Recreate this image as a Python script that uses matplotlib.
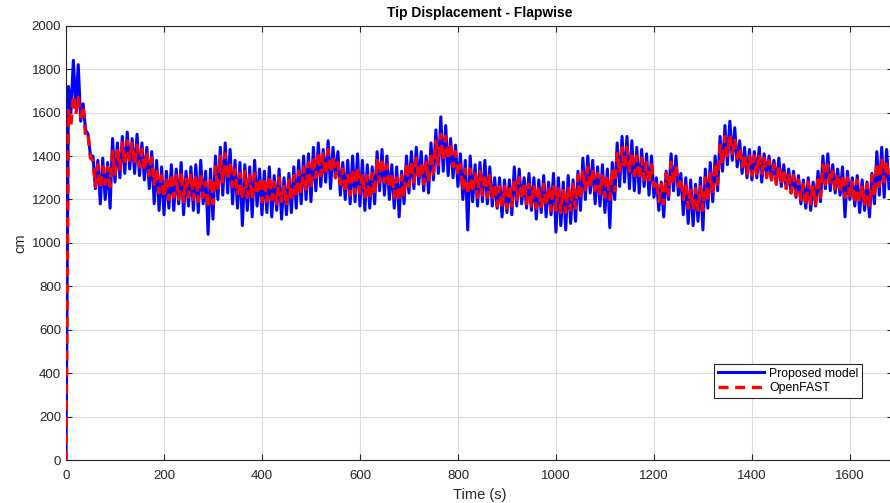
import numpy as np
import matplotlib
matplotlib.use("Agg")
import matplotlib.pyplot as plt

plt.rcParams['font.family'] = ['Liberation Sans', 'DejaVu Sans']

# Proposed model: peaks (t = 5, 15, ... 1675 s) and troughs (t = 10, 20, ... 1680 s)
blue_hi = [1720, 1840, 1820, 1640, 1500, 1400, 1380, 1390, 1370, 1480,
           1460, 1490, 1510, 1480, 1500, 1460, 1440, 1420, 1380, 1350,
           1330, 1360, 1340, 1370, 1330, 1350, 1360, 1380, 1330, 1340,
           1400, 1440, 1460, 1430, 1380, 1370, 1360, 1350, 1380, 1340,
           1330, 1350, 1310, 1340, 1300, 1320, 1350, 1380, 1400, 1410,
           1440, 1460, 1430, 1470, 1440, 1420, 1370, 1380, 1400, 1410,
           1380, 1360, 1350, 1420, 1430, 1400, 1360, 1350, 1330, 1400,
           1420, 1440, 1420, 1400, 1460, 1520, 1580, 1540, 1480, 1450,
           1410, 1380, 1400, 1360, 1370, 1380, 1350, 1300, 1300, 1290,
           1290, 1350, 1340, 1300, 1320, 1300, 1290, 1310, 1280, 1320,
           1300, 1280, 1310, 1290, 1330, 1390, 1400, 1380, 1350, 1360,
           1340, 1370, 1460, 1490, 1490, 1470, 1440, 1430, 1410, 1400,
           1300, 1280, 1330, 1410, 1400, 1320, 1300, 1290, 1270, 1300,
           1340, 1370, 1400, 1490, 1540, 1560, 1530, 1470, 1440, 1430,
           1420, 1440, 1410, 1400, 1380, 1390, 1360, 1340, 1330, 1310,
           1290, 1300, 1280, 1330, 1400, 1410, 1360, 1340, 1350, 1330,
           1300, 1310, 1290, 1280, 1320, 1420, 1440, 1430]
blue_lo = [1600, 1620, 1560, 1520, 1400, 1250, 1180, 1200, 1160, 1280,
           1300, 1320, 1340, 1320, 1310, 1290, 1250, 1180, 1150, 1130,
           1160, 1150, 1180, 1130, 1170, 1150, 1140, 1180, 1040, 1110,
           1200, 1220, 1230, 1180, 1160, 1080, 1150, 1120, 1170, 1130,
           1140, 1120, 1150, 1110, 1130, 1140, 1160, 1180, 1200, 1190,
           1240, 1260, 1280, 1250, 1300, 1220, 1200, 1180, 1190, 1170,
           1150, 1160, 1180, 1240, 1220, 1200, 1160, 1120, 1180, 1230,
           1250, 1270, 1240, 1230, 1290, 1320, 1330, 1310, 1300, 1260,
           1200, 1060, 1190, 1170, 1190, 1180, 1170, 1160, 1120, 1140,
           1130, 1170, 1180, 1160, 1150, 1110, 1140, 1120, 1130, 1050,
           1080, 1060, 1090, 1100, 1150, 1200, 1230, 1180, 1170, 1140,
           1070, 1200, 1260, 1280, 1250, 1240, 1230, 1260, 1220, 1210,
           1150, 1120, 1200, 1240, 1220, 1130, 1090, 1080, 1100, 1060,
           1160, 1190, 1240, 1330, 1360, 1380, 1350, 1320, 1300, 1290,
           1300, 1280, 1310, 1290, 1270, 1260, 1250, 1230, 1210, 1180,
           1160, 1150, 1170, 1190, 1250, 1240, 1230, 1220, 1120, 1200,
           1170, 1140, 1150, 1120, 1180, 1220, 1210, 1250]

# OpenFAST: peaks and troughs on the same times
red_hi = [1610, 1680, 1670, 1630, 1500, 1380, 1360, 1350, 1350, 1420,
          1440, 1460, 1470, 1460, 1450, 1430, 1420, 1390, 1340, 1310,
          1300, 1320, 1310, 1330, 1300, 1320, 1310, 1320, 1280, 1300,
          1350, 1400, 1410, 1370, 1340, 1320, 1330, 1310, 1320, 1300,
          1300, 1310, 1280, 1300, 1270, 1290, 1310, 1330, 1350, 1370,
          1400, 1420, 1410, 1430, 1400, 1370, 1340, 1320, 1340, 1350,
          1320, 1310, 1320, 1390, 1390, 1360, 1320, 1300, 1310, 1370,
          1380, 1390, 1370, 1380, 1420, 1470, 1500, 1490, 1460, 1420,
          1360, 1340, 1340, 1320, 1330, 1320, 1310, 1270, 1260, 1260,
          1270, 1300, 1300, 1280, 1270, 1270, 1260, 1270, 1260, 1270,
          1260, 1250, 1260, 1270, 1310, 1340, 1350, 1340, 1320, 1320,
          1310, 1340, 1420, 1440, 1440, 1420, 1400, 1390, 1370, 1360,
          1290, 1270, 1320, 1370, 1360, 1300, 1270, 1250, 1250, 1260,
          1300, 1320, 1370, 1450, 1490, 1500, 1480, 1440, 1410, 1400,
          1400, 1410, 1390, 1380, 1360, 1360, 1340, 1320, 1310, 1290,
          1270, 1280, 1270, 1310, 1360, 1360, 1330, 1320, 1310, 1300,
          1280, 1290, 1270, 1270, 1310, 1370, 1390, 1380]
red_lo = [1540, 1590, 1580, 1490, 1390, 1260, 1250, 1270, 1260, 1310,
          1340, 1360, 1380, 1360, 1350, 1330, 1310, 1270, 1230, 1210,
          1200, 1210, 1200, 1190, 1210, 1200, 1190, 1210, 1160, 1180,
          1240, 1280, 1290, 1260, 1220, 1200, 1210, 1200, 1220, 1190,
          1190, 1200, 1180, 1190, 1170, 1190, 1210, 1230, 1240, 1250,
          1300, 1310, 1310, 1320, 1300, 1270, 1230, 1220, 1230, 1230,
          1210, 1200, 1220, 1280, 1280, 1250, 1210, 1190, 1210, 1260,
          1280, 1290, 1270, 1280, 1320, 1360, 1380, 1380, 1350, 1310,
          1240, 1220, 1230, 1210, 1220, 1210, 1200, 1170, 1160, 1160,
          1170, 1200, 1200, 1180, 1170, 1160, 1160, 1170, 1150, 1150,
          1140, 1140, 1150, 1160, 1200, 1240, 1250, 1240, 1220, 1210,
          1200, 1240, 1320, 1340, 1330, 1310, 1290, 1290, 1270, 1260,
          1190, 1180, 1220, 1270, 1260, 1200, 1160, 1150, 1150, 1150,
          1190, 1220, 1270, 1360, 1400, 1410, 1390, 1350, 1320, 1310,
          1310, 1320, 1300, 1290, 1270, 1270, 1250, 1230, 1220, 1200,
          1170, 1180, 1170, 1210, 1270, 1270, 1240, 1230, 1210, 1210,
          1180, 1190, 1170, 1170, 1210, 1260, 1280, 1280]

t_hi = np.arange(5, 1680, 10)
t_lo = t_hi + 5


def zigzag(hi, lo):
    t = np.empty(2 * len(hi) + 1)
    y = np.empty(2 * len(hi) + 1)
    t[0], y[0] = 0, 0
    t[1::2], t[2::2] = t_hi, t_lo
    y[1::2], y[2::2] = hi, lo
    return t, y


tb, yb = zigzag(blue_hi, blue_lo)
tr, yr = zigzag(red_hi, red_lo)

fig = plt.figure(figsize=(8.9, 5.03), dpi=100)
ax = fig.add_axes([66 / 890, 0.0845, 827 / 890, 0.8648])

ax.plot(tb, yb, color='#0000ff', lw=2.2, label='Proposed model', zorder=3)
ax.plot(tr, yr, color='#ff0000', lw=2.4, ls=(0, (3, 2)), label='OpenFAST', zorder=4)

ax.set_xlim(0, 1688)
ax.set_ylim(0, 2000)
ax.set_xticks(range(0, 1601, 200))
ax.set_yticks(range(0, 2001, 200))
ax.grid(True, color='#dcdcdc', lw=0.8)
ax.set_axisbelow(True)
ax.tick_params(direction='in', labelsize=9.5, colors='#262626', length=4,
               top=True, right=True)
ax.tick_params(axis='x', pad=7)
for s in ax.spines.values():
    s.set_color('#262626')
    s.set_linewidth(0.8)

ax.set_title('Tip Displacement - Flapwise', fontsize=10, fontweight='bold', pad=6)
ax.set_xlabel('Time (s)', fontsize=10.5, color='#262626', labelpad=4)
ax.set_ylabel('cm', fontsize=10.5, color='#262626', labelpad=3)

leg = ax.legend(loc='lower right', bbox_to_anchor=(0.9685, 0.209),
                bbox_transform=fig.transFigure, fontsize=8.8, fancybox=False,
                framealpha=1, edgecolor='#262626', borderpad=0.3,
                handlelength=3.8, handletextpad=0.4, labelspacing=0.2,
                borderaxespad=0)
leg.get_frame().set_linewidth(0.8)

fig.savefig('out.png', dpi=100)
